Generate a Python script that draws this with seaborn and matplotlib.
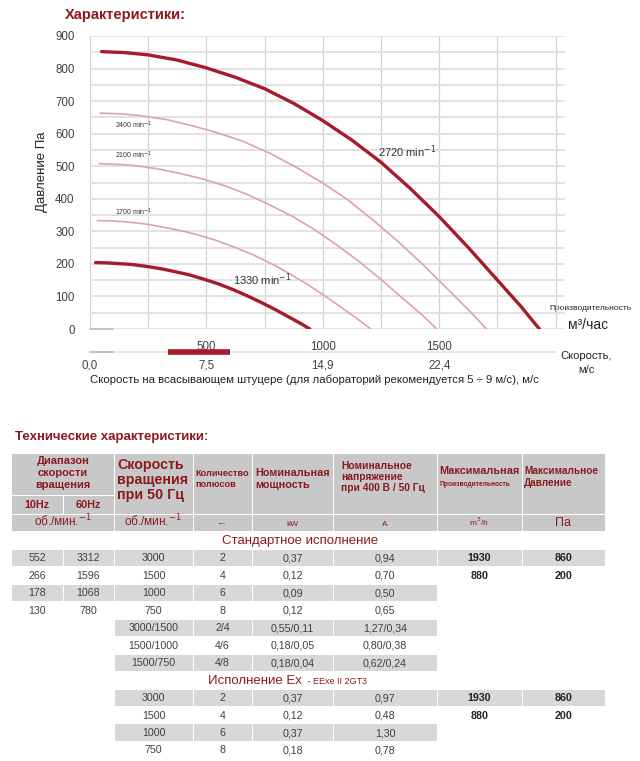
import numpy as np
import pandas as pd
import matplotlib
matplotlib.use("Agg")
import matplotlib.pyplot as plt
from matplotlib.patches import Rectangle
import matplotlib.transforms as mtransforms
import seaborn as sns

# fan curves: flow m3/h, pressure Pa
q_2720 = [50, 150, 250, 375, 500, 625, 750, 875, 1000, 1125, 1250, 1375, 1500, 1625, 1750, 1850, 1930]
p_2720 = [852, 849, 842, 826, 802, 773, 738, 693, 640, 580, 512, 432, 345, 250, 150, 70, 0]
q_2400 = [44, 132, 221, 331, 441, 551, 662, 772, 882, 992, 1103, 1213, 1323, 1434, 1544, 1632, 1703]
p_2400 = [663, 661, 655, 643, 624, 602, 575, 540, 498, 452, 399, 336, 269, 195, 117, 54, 0]
q_2100 = [39, 116, 193, 290, 386, 483, 579, 676, 772, 869, 965, 1062, 1158, 1255, 1351, 1428, 1490]
p_2100 = [508, 506, 502, 492, 478, 461, 440, 413, 381, 346, 305, 257, 206, 149, 89, 42, 0]
q_1700 = [31, 94, 156, 234, 313, 391, 469, 547, 625, 703, 781, 859, 938, 1016, 1094, 1156, 1206]
p_1700 = [333, 332, 329, 323, 313, 302, 288, 271, 250, 227, 200, 169, 135, 98, 59, 27, 0]
q_1330 = [24, 73, 122, 183, 245, 306, 367, 428, 489, 550, 611, 672, 734, 795, 856, 905, 944]
p_1330 = [204, 203, 201, 198, 192, 185, 176, 166, 153, 139, 122, 103, 82, 60, 36, 17, 0]

flow_ticks = [500, 1000, 1500]
speed_ticks = [0, 500, 1000, 1500]
speed_labels = ["0,0", "7,5", "14,9", "22,4"]
recommended_flow = [333, 600]  # 5 ... 9 m/s

# table data
col_10hz = ["552", "266", "178", "130"]
col_60hz = ["3312", "1596", "1068", "780"]
std_speed = ["3000", "1500", "1000", "750", "3000/1500", "1500/1000", "1500/750"]
std_poles = ["2", "4", "6", "8", "2/4", "4/6", "4/8"]
std_power = ["0,37", "0,12", "0,09", "0,12", "0,55/0,11", "0,18/0,05", "0,18/0,04"]
std_current = ["0,94", "0,70", "0,50", "0,65", "1,27/0,34", "0,80/0,38", "0,62/0,24"]
std_flow = ["1930", "880"]
std_press = ["860", "200"]
ex_speed = ["3000", "1500", "1000", "750"]
ex_poles = ["2", "4", "6", "8"]
ex_power = ["0,37", "0,12", "0,37", "0,18"]
ex_current = ["0,97", "0,48", "1,30", "0,78"]
ex_flow = ["1930", "880"]
ex_press = ["860", "200"]

DARK = "#a71a2c"
LIGHT = "#dba3ab"
HEAD = "#8b1a1e"
TXT = "#404040"

sns.set_theme(style="white")
plt.rcParams["font.family"] = ["Liberation Sans", "DejaVu Sans"]

curves = []
for name, q, p in [("2720", q_2720, p_2720), ("2400", q_2400, p_2400),
                   ("2100", q_2100, p_2100), ("1700", q_1700, p_1700),
                   ("1330", q_1330, p_1330)]:
    curves.append(pd.DataFrame({"Q": q, "P": p, "rpm": name}))
df = pd.concat(curves, ignore_index=True)

fig = plt.figure(figsize=(6.4, 7.61), dpi=100)

# overlay in pixel coordinates for free text and the table
ov = fig.add_axes([0, 0, 1, 1])
ov.set_xlim(0, 640)
ov.set_ylim(761, 0)
ov.axis("off")

ax = fig.add_axes([90 / 640, 1 - 329 / 761, 475 / 640, 293 / 761])
ax.set_xlim(0, 2040)
ax.set_ylim(0, 900)
ax.set_yticks(range(0, 901, 100))
ax.set_yticks(range(50, 900, 100), minor=True)
ax.set_xticks(flow_ticks)
ax.set_xticks(range(0, 2001, 250), minor=True)
ax.grid(axis="y", which="both", color="#e2e2e2", lw=1.4)
ax.grid(axis="x", which="both", color="#d2d2d2", lw=0.9)
for s in ax.spines.values():
    s.set_visible(False)
ax.tick_params(length=0, labelsize=8.3, colors=TXT)
ax.tick_params(axis="y", pad=11)
ax.tick_params(axis="x", pad=9)
ax.patch.set_alpha(0)

sns.lineplot(data=df, x="Q", y="P", hue="rpm", size="rpm", sort=False,
             palette={"2720": DARK, "2400": LIGHT, "2100": LIGHT, "1700": LIGHT, "1330": DARK},
             sizes={"2720": 2.4, "2400": 1.2, "2100": 1.2, "1700": 1.2, "1330": 2.4},
             legend=False, ax=ax, zorder=3)
ax.set_xlabel("")
ax.set_ylabel("")

ax.text(1236, 545, "2720 min$^{-1}$", fontsize=8, color="#333333", va="center")
ax.text(613, 150, "1330 min$^{-1}$", fontsize=8, color="#333333", va="center")
for y, lab in [(626, "2400"), (532, "2100"), (358, "1700")]:
    ax.text(107, y, lab + " min$^{-1}$", fontsize=5, color="#333333", va="center")

# second axis row: velocity on suction nozzle
tr = mtransforms.blended_transform_factory(ax.transData, ax.transAxes)
ax.plot([0, 2000], [-0.0785, -0.0785], color="#e4e4e4", lw=1.2, transform=tr, clip_on=False)
ax.plot([0, 100], [-0.0785, -0.0785], color="#cbb0d6", lw=1.2, transform=tr, clip_on=False)
ax.plot([0, 100], [0.0, 0.0], color="#bbbbbb", lw=1.2, transform=tr, clip_on=False)
ax.plot(recommended_flow, [-0.0785, -0.0785], color=DARK, lw=4, transform=tr,
        clip_on=False, solid_capstyle="butt")
for x, lab in zip(speed_ticks, speed_labels):
    ax.text(x, -0.126, lab, fontsize=8.3, color=TXT, ha="center", va="center", transform=tr)

ov.text(65, 15, "Характеристики:", fontsize=10.5, fontweight="bold", color=HEAD, va="center")
ov.text(42, 172, "Давление Па", fontsize=9.5, rotation=90, ha="center", va="center", color="#222222")
ov.text(314, 380, "Скорость на всасывающем штуцере (для лабораторий рекомендуется 5 ÷ 9 м/с), м/с",
        fontsize=8.2, ha="center", va="center", color="#222222")
ov.text(590, 308, "Производительность", fontsize=6, ha="center", va="center", color="#222222")
ov.text(588, 325, "м³/час", fontsize=10, ha="center", va="center", color="#222222")
ov.text(586, 356, "Скорость,", fontsize=8, ha="center", va="center", color="#222222")
ov.text(586, 370, "м/с", fontsize=8, ha="center", va="center", color="#222222")

# ---- table ----
ov.text(15, 437, "Технические характеристики:", fontsize=9.5, fontweight="bold", color=HEAD, va="center")

cols = [11, 63, 114, 193, 252, 333, 437, 522, 605]
HEAD_BG = "#c8c8c8"
ROW_BG = "#d8d8d8"


def cell(x0, x1, y0, y1, color):
    ov.add_patch(Rectangle((x0 + 0.5, y0 + 0.5), x1 - x0 - 1, y1 - y0 - 1,
                           facecolor=color, edgecolor="none"))


cell(cols[0], cols[2], 453, 495, HEAD_BG)
cell(cols[0], cols[1], 495, 514, HEAD_BG)
cell(cols[1], cols[2], 495, 514, HEAD_BG)
for i in range(2, 8):
    cell(cols[i], cols[i + 1], 453, 514, HEAD_BG)
cell(cols[0], cols[2], 514, 531, HEAD_BG)
for i in range(2, 8):
    cell(cols[i], cols[i + 1], 514, 531, HEAD_BG)

hb = dict(color=HEAD, fontweight="bold", va="center")
ov.text(63, 473, "Диапазон\nскорости\nвращения", fontsize=8, ha="center", linespacing=1.2, **hb)
ov.text(37, 505, "10Hz", fontsize=7.8, ha="center", **hb)
ov.text(88, 505, "60Hz", fontsize=7.8, ha="center", **hb)
ov.text(117, 480, "Скорость\nвращения\nпри 50 Гц", fontsize=10.3, ha="left", linespacing=1.12, **hb)
ov.text(195, 479, "Количество\nполюсов", fontsize=6.6, ha="left", linespacing=1.3, **hb)
ov.text(255, 479, "Номинальная\nмощность", fontsize=7.8, ha="left", linespacing=1.2, **hb)
ov.text(341, 477, "Номинальное\nнапряжение\nпри 400 В / 50 Гц", fontsize=7.4, ha="left", linespacing=1.15, **hb)
ov.text(439, 471, "Максимальная", fontsize=7.8, ha="left", **hb)
ov.text(439, 484, "Производительность", fontsize=4.8, ha="left", **hb)
ov.text(524, 477, "Максимальное\nДавление", fontsize=7.2, ha="left", linespacing=1.25, **hb)

un = dict(color=HEAD, va="baseline", ha="center")
ov.text(63, 526, "об./мин.$^{-1}$", fontsize=8.5, **un)
ov.text(153, 526, "об./мин.$^{-1}$", fontsize=8.5, **un)
ov.text(222, 525, "---", fontsize=6, **un)
ov.text(292, 525.5, "kW", fontsize=6, **un)
ov.text(385, 525.5, "A", fontsize=6, **un)
ov.text(479, 525.5, "m$^3$/h", fontsize=6, **un)
ov.text(563, 526, "Па", fontsize=9, **un)

ov.text(300, 544, "Стандартное исполнение", fontsize=9.5, color=HEAD, ha="center", va="baseline")
ov.text(302, 684, "Исполнение Ex", fontsize=9.5, color=HEAD, ha="right", va="baseline")
ov.text(305, 684, " - EExe II 2GT3", fontsize=6.5, color=HEAD, ha="left", va="baseline")


def draw_block(top, row_h, columns):
    # columns: list of (column index, values, bold)
    nrows = max(len(v) for _, v, _ in columns)
    for r in range(nrows):
        y0 = top + r * row_h
        for ci, vals, bold in columns:
            if r >= len(vals):
                continue
            if r % 2 == 0:
                cell(cols[ci], cols[ci + 1], y0, y0 + row_h, ROW_BG)
            ov.text((cols[ci] + cols[ci + 1]) / 2, y0 + row_h / 2 + 3.5, vals[r],
                    fontsize=7.7, color="#222222" if bold else TXT,
                    fontweight="bold" if bold else "normal", ha="center", va="baseline")


draw_block(549, 17.5, [(0, col_10hz, False), (1, col_60hz, False), (2, std_speed, False),
                       (3, std_poles, False), (4, std_power, False), (5, std_current, False),
                       (6, std_flow, True), (7, std_press, True)])
draw_block(689, 17.4, [(2, ex_speed, False), (3, ex_poles, False), (4, ex_power, False),
                       (5, ex_current, False), (6, ex_flow, True), (7, ex_press, True)])

fig.savefig("out.png", dpi=100)
